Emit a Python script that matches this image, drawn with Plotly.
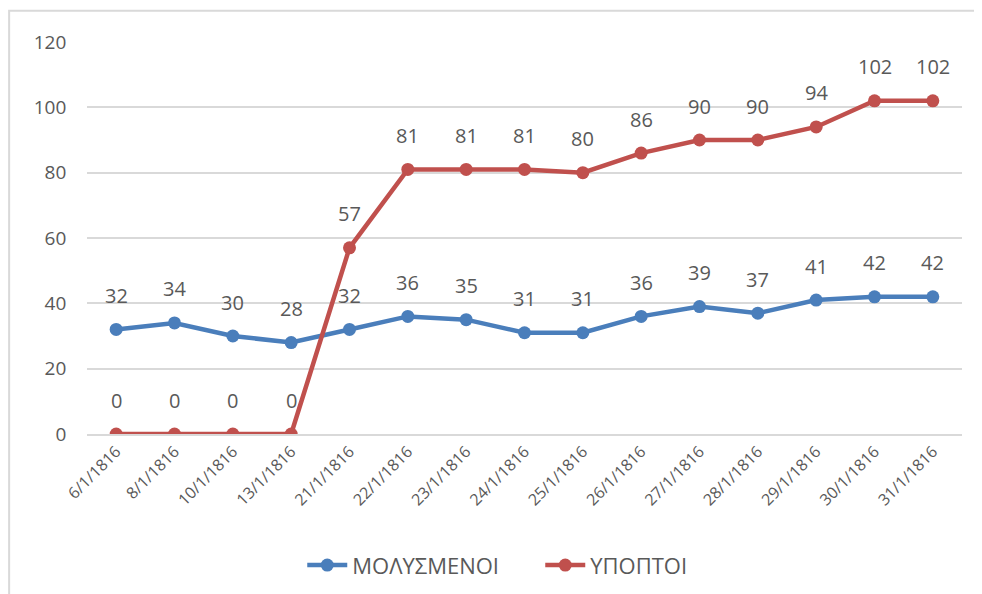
import plotly.graph_objects as go

dates = ["6/1/1816", "8/1/1816", "10/1/1816", "13/1/1816", "21/1/1816",
         "22/1/1816", "23/1/1816", "24/1/1816", "25/1/1816", "26/1/1816",
         "27/1/1816", "28/1/1816", "29/1/1816", "30/1/1816", "31/1/1816"]
infected = [32, 34, 30, 28, 32, 36, 35, 31, 31, 36, 39, 37, 41, 42, 42]
suspected = [0, 0, 0, 0, 57, 81, 81, 81, 80, 86, 90, 90, 94, 102, 102]

BLUE = "#4a7ebb"
RED = "#c0504d"
GREY = "#595959"
FONT = "Open Sans"

fig = go.Figure()
fig.add_trace(go.Scatter(
    x=dates, y=infected, name="ΜΟΛΥΣΜΕΝΟΙ", mode="lines+markers",
    line=dict(color=BLUE, width=4.5), marker=dict(size=13, color=BLUE),
))
fig.add_trace(go.Scatter(
    x=dates, y=suspected, name="ΥΠΟΠΤΟΙ", mode="lines+markers",
    line=dict(color=RED, width=4.5), marker=dict(size=13, color=RED),
))

# data labels above each point
for series in (infected, suspected):
    for d, v in zip(dates, series):
        fig.add_annotation(x=d, y=v, text=str(v), showarrow=False,
                           yshift=34, font=dict(size=20, color=GREY, family=FONT))

# outer chart border
fig.add_shape(type="rect", xref="paper", yref="paper",
              x0=-0.089, x1=1.015, y0=-0.42, y1=1.08,
              line=dict(color="#d9d9d9", width=2), layer="below")

fig.update_layout(
    width=982, height=594,
    margin=dict(l=79, r=28, t=34, b=168),
    paper_bgcolor="white", plot_bgcolor="white",
    font=dict(family=FONT, color=GREY),
    showlegend=True,
    legend=dict(orientation="h", x=0.518, xanchor="center", y=-0.335, yanchor="middle",
                font=dict(size=22, color=GREY), itemwidth=40,
                entrywidth=183, entrywidthmode="pixels"),
)
fig.update_xaxes(
    type="category", range=[-0.5, 14.5], tickangle=-45,
    tickfont=dict(size=16, color=GREY), showgrid=False,
    showline=True, linecolor="#d9d9d9", linewidth=2, ticks="",
)
fig.update_yaxes(
    range=[0, 120], dtick=20, tickfont=dict(size=19, color=GREY),
    showgrid=True, gridcolor="#d9d9d9", gridwidth=2, zeroline=False,
    ticksuffix="    ",
)

fig.write_html("out.html")
